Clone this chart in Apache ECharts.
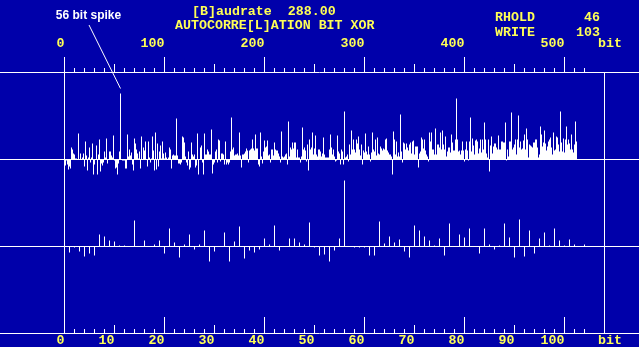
<!DOCTYPE html>
<html><head><meta charset="utf-8">
<script src="https://cdn.jsdelivr.net/npm/echarts@6/dist/echarts.min.js"></script>
<style>html,body{margin:0;padding:0;background:#0000AA;}#c{width:639px;height:347px;}</style>
</head><body><div id="c"></div>
<script>
// autocorrelation value per bit lag (0..512), in screen units
const bitValues = [
0,-6,-1,-5,-10,-7,-9,12,10,6,
5,1,1,0,26,0,6,0,2,6,
-7,18,4,-11,2,12,-3,2,16,-15,
-5,0,14,-15,5,20,-12,-4,-6,-3,
8,2,21,-4,0,8,8,4,2,24,
-1,-9,-8,-15,-4,8,66,0,-1,-1,
-1,-9,-9,25,3,10,4,7,-5,-11,
21,16,10,6,1,8,-9,23,0,12,
9,18,0,-7,18,2,-3,1,23,9,
-11,27,-10,16,-7,8,14,1,18,6,
1,7,2,0,2,
12,10,-9,4,5,4,4,41,4,-4,-4,-5,-3,23,22,17,3,-3,-6,8,-10,-8,17,
5,3,5,-8,-6,26,-15,0,12,14,
-3,-15,26,5,5,10,8,5,5,30,
-14,-5,-3,8,10,-3,20,19,-2,6,
6,5,-5,18,-5,-3,-5,-3,8,42,
10,12,4,5,5,6,4,27,4,-8,
5,5,6,8,11,9,-3,9,10,11,
20,11,9,25,11,11,-5,-7,27,3,
-4,8,19,12,13,19,4,5,-3,10,
10,4,17,10,9,9,6,3,-3,28,
3,2,3,5,6,-5,38,3,12,10,
17,11,17,17,2,10,2,2,-3,3,
32,10,12,9,-2,15,-11,20,10,12,
27,5,11,24,5,3,10,10,8,3,
6,22,5,2,2,2,2,10,25,12,
5,10,3,-2,-1,24,8,6,-5,10,
8,-5,48,2,3,5,-2,15,5,29,
10,20,10,7,20,16,23,10,4,15,
-5,9,7,26,8,5,13,5,-2,7,
27,10,8,20,4,22,6,5,13,11,
9,11,10,20,21,9,7,5,5,3,
-15,28,20,5,18,3,7,3,45,8,
-3,17,16,10,16,12,9,15,17,6,
18,19,5,13,13,13,-8,6,8,22,
20,11,20,9,5,3,-2,27,18,27,
10,10,5,31,5,15,15,12,27,10,
29,15,10,23,3,8,12,12,7,25,
17,9,9,20,61,20,8,9,5,9,
18,9,-2,10,18,9,-1,18,42,8,
21,14,5,19,20,18,6,11,20,7,
20,10,37,20,6,2,20,-12,14,23,
6,13,16,16,12,10,24,10,10,18,
18,17,17,37,-1,10,3,18,18,47,
10,12,15,20,5,20,44,12,18,10,
11,19,25,10,31,20,2,15,14,13,
12,17,17,20,20,12,2,5,33,25,
13,17,29,16,9,13,18,20,22,12,
5,27,9,10,23,22,15,8,48,17,
8,21,7,20,33,15,20,16,10,25,
10,7,15,38,18
];
const lowerCount = 105;                 // lags shown in the zoomed lower strip
const lowerValues = bitValues.slice(0, lowerCount);

const topTickLabels = [0, 100, 200, 300, 400, 500];
const topMidTicks = [50, 150, 250, 350, 450];
const topMinorTicks = [0,10,20,30,40,50,60,70,80,90,100,110,120,130,140,150,160,170,180,190,200,210,220,230,240,250,260,270,280,290,300,310,320,330,340,350,360,370,380,390,400,410,420,430,440,450,460,470,480,490,500,510,520];
const bottomTickLabels = [0, 10, 20, 30, 40, 50, 60, 70, 80, 90, 100];
const bottomMajorTicks = [0, 20, 40, 60, 80, 100];
const bottomMidTicks = [10, 30, 50, 70, 90];
const bottomMinorTicks = [0,2,4,6,8,10,12,14,16,18,20,22,24,26,28,30,32,34,36,38,40,42,44,46,48,50,52,54,56,58,60,62,64,66,68,70,72,74,76,78,80,82,84,86,88,90,92,94,96,98,100,102,104];
const bottomRightEdge = 108;
const spikeLag = 56;

const titleLine1 = '[B]audrate  288.00';
const titleLine2 = 'AUTOCORRE[L]ATION BIT XOR';
const rholdLabel = 'RHOLD', rholdValue = '46';
const writeLabel = 'WRITE', writeValue = '103';
const unitLabel = 'bit';
const spikeNote = '56 bit spike';

const Y = '#FFFF55', W = '#FFFFFF', BG = '#0000AA';
const MONO = 'Liberation Mono';
const FS = 13.3;
const topMin = -64.5, topMax = 574.5;
const botMin = -12.9, botMax = 114.9;

function tickAxis(grid, pos, min, max, ticks, len, inside, line, labels, margin) {
  return {
    type: 'value', gridIndex: grid, position: pos, min: min, max: max,
    axisLine: { show: line, onZero: false, lineStyle: { color: W, width: 1 } },
    axisTick: { show: true, inside: inside, length: len, customValues: ticks, lineStyle: { color: W, width: 1 } },
    axisLabel: labels ? { show: true, customValues: labels, color: Y, fontFamily: MONO, fontWeight: 'bold', fontSize: FS, align: 'right', margin: margin } : { show: false },
    splitLine: { show: false }
  };
}
function txt(x, y, s, align, color, size, family) {
  return { type: 'text', x: x, y: y, silent: true,
    style: { text: s, fill: color || Y, fontFamily: family || MONO, fontWeight: 'bold', fontSize: size || FS, align: align || 'left', verticalAlign: 'middle' } };
}
const lineStyle = { color: W, width: 1, type: 'solid' };

const chart = echarts.init(document.getElementById('c'), null, { renderer: 'canvas' });
chart.setOption({
  backgroundColor: BG,
  animation: false,
  grid: [
    { left: 0, top: 0, width: 639, height: 246, outerBoundsMode: 'none' },
    { left: 0, top: 72, width: 639, height: 261, outerBoundsMode: 'none' }
  ],
  xAxis: [
    { type: 'value', gridIndex: 0, min: topMin, max: topMax, show: false },
    { type: 'value', gridIndex: 1, min: botMin, max: botMax, show: false },
    tickAxis(1, 'top', topMin, topMax, topTickLabels, 15, false, true, topTickLabels, 22),
    tickAxis(1, 'top', topMin, topMax, topMidTicks, 8, false, false, null),
    tickAxis(1, 'top', topMin, topMax, topMinorTicks, 4, false, false, null),
    tickAxis(1, 'bottom', botMin, botMax, bottomMajorTicks, 16, true, true, bottomTickLabels, 1),
    tickAxis(1, 'bottom', botMin, botMax, bottomMidTicks, 8, true, false, null),
    tickAxis(1, 'bottom', botMin, botMax, bottomMinorTicks, 4, true, false, null)
  ],
  yAxis: [
    { type: 'value', gridIndex: 0, min: -86.5, max: 159.5, show: false },
    { type: 'value', gridIndex: 1, min: -86.5, max: 174.5, show: false }
  ],
  series: [
    {
      type: 'bar', xAxisIndex: 0, yAxisIndex: 0, barWidth: 1, clip: false, silent: true,
      itemStyle: { color: W }, data: bitValues.map((v, i) => [i, v]),
      markLine: {
        silent: true, symbol: ['none', 'none'], label: { show: false }, lineStyle: lineStyle, animation: false,
        emphasis: { disabled: true },
        data: [ { yAxis: 0 },
          [ { coord: [spikeLag, 71] }, { coord: [24.5, 134.5] } ] ]
      }
    },
    {
      type: 'bar', xAxisIndex: 1, yAxisIndex: 1, barWidth: 1, clip: false, silent: true,
      itemStyle: { color: W }, data: lowerValues.map((v, i) => [i, v]),
      markLine: {
        silent: true, symbol: ['none', 'none'], label: { show: false }, lineStyle: lineStyle, animation: false,
        emphasis: { disabled: true },
        data: [ { yAxis: 0 }, { xAxis: 0 }, { xAxis: bottomRightEdge } ]
      }
    }
  ],
  graphic: [
    txt(192, 12, titleLine1),
    txt(175, 25.5, titleLine2),
    txt(495, 17.5, rholdLabel), txt(600, 17.5, rholdValue, 'right'),
    txt(495, 32.5, writeLabel), txt(600, 32.5, writeValue, 'right'),
    txt(598, 43.5, unitLabel),
    txt(598, 340.5, unitLabel),
    txt(88.5, 16, spikeNote, 'center', W, 12, 'Liberation Sans')
  ]
});
</script>
</body></html>
